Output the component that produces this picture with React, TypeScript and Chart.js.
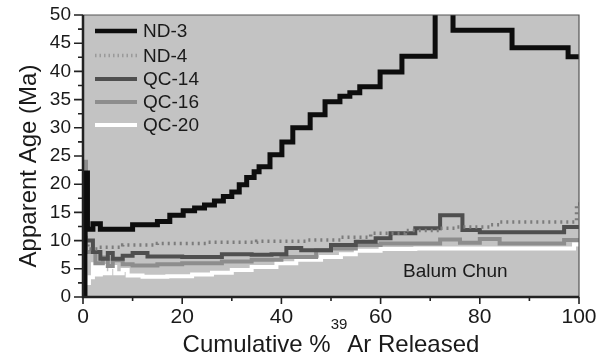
import React, { useEffect, useRef } from 'react';
import { Chart, registerables } from 'chart.js';
Chart.register(...registerables);

// Step spectra: each array gives the start of a step (% 39Ar) and its apparent age (Ma)
const ND3_X = [0, 0.4, 0.9, 2, 3.5, 10, 15, 17.5, 20.2, 22.5, 24.5, 26.5, 28.3, 30, 31.5, 33, 34.5, 35.5, 37.7, 40.1, 42.3, 45.8, 48.8, 51.8, 53.8, 55.8, 59.9, 64.3, 71, 74.6, 86.5, 97.8];
const ND3_AGE = [0.5, 22, 12, 13, 12, 12.8, 13.4, 14.5, 15.3, 15.8, 16.3, 17, 17.8, 18.6, 19.9, 21.2, 22.2, 23.1, 25.2, 27.5, 30, 32.3, 34.6, 35.6, 36.2, 37.3, 39.9, 42.7, 60, 47.3, 44.2, 42.6];

const ND4_X = [0, 1, 3, 8, 15, 25, 35, 45, 52, 58, 65, 72, 75, 82, 84, 99.5];
const ND4_AGE = [9.5, 8.5, 8.8, 9.2, 9.5, 9.7, 9.9, 10.1, 10.6, 11.3, 11.8, 12.2, 12.4, 12.8, 13.3, 16.5];

const QC14_X = [0, 0.5, 2, 3.5, 5, 6, 8, 10, 13, 20, 28, 34, 38, 41, 44, 50, 55, 59, 62, 67, 72, 76.5, 80, 97];
const QC14_AGE = [10.5, 10, 8, 6.8, 7.8, 6.8, 7.3, 7.8, 7.2, 7.1, 7.6, 7.5, 7.6, 8.7, 8.3, 9.2, 9.8, 10.4, 11.3, 12.2, 14.5, 11.9, 11.5, 12.4];

const QC16_X = [0, 0.6, 2.5, 4, 5, 6, 8, 10, 15, 20, 28, 34, 40, 47, 50, 55, 60, 72, 76, 80, 84, 97];
const QC16_AGE = [24, 8, 6, 7, 5.5, 6.5, 5.8, 5.6, 5.8, 6, 6.3, 6.6, 7.1, 8.3, 8.6, 9.2, 9.5, 10.2, 9.6, 10.3, 9.5, 10.1];

const QC20_X = [0, 0.5, 1.2, 2, 2.8, 3.6, 4.4, 5.5, 6.5, 8, 9, 12, 17, 22, 26, 30, 34, 39, 43, 48, 52, 55, 60, 67, 99];
const QC20_AGE = [8, 2.5, 3.5, 5.8, 4, 5.5, 4.2, 5.3, 4.2, 4.8, 3.8, 3.6, 3.7, 4, 4.3, 4.8, 5.3, 6, 6.6, 7.1, 7.6, 8.2, 8.5, 8.6, 9.3];

const X_MAX = 100;
const SERIES_NAMES = ['ND-3', 'ND-4', 'QC-14', 'QC-16', 'QC-20'];
const SITE_LABEL = 'Balum Chun';
const Y_TITLE = 'Apparent Age (Ma)';
const X_TITLE_A = 'Cumulative %';
const X_TITLE_SUP = '39';
const X_TITLE_B = 'Ar Released';

const FONT = '"Liberation Sans", Arial, Helvetica, sans-serif';

function steps(xs: number[], ys: number[]) {
  const pts = xs.map((x, i) => ({ x, y: ys[i] }));
  pts.push({ x: X_MAX, y: ys[ys.length - 1] });
  return pts;
}

const STYLES = [
  { color: '#0d0d0d', width: 5, dash: [] as number[] },
  { color: '#7c7c7c', width: 3.5, dash: [2, 4] },
  { color: '#4f4f4f', width: 4, dash: [] as number[] },
  { color: '#8d8d8d', width: 4, dash: [] as number[] },
  { color: '#ffffff', width: 4, dash: [] as number[] },
];

export default function App() {
  const ref = useRef<HTMLCanvasElement>(null);
  useEffect(() => {
    document.body.style.margin = '0';
    const canvas = ref.current!;
    const series = [
      steps(ND3_X, ND3_AGE),
      steps(ND4_X, ND4_AGE),
      steps(QC14_X, QC14_AGE),
      steps(QC16_X, QC16_AGE),
      steps(QC20_X, QC20_AGE),
    ];

    const decor = {
      id: 'decor',
      beforeDatasetsDraw(chart: any) {
        const { ctx, chartArea: a } = chart;
        ctx.save();
        ctx.fillStyle = '#c3c3c3';
        ctx.fillRect(a.left, a.top, a.right - a.left, a.bottom - a.top);
        ctx.restore();
      },
      afterDatasetsDraw(chart: any) {
        const { ctx, chartArea: a } = chart;
        const xs = chart.scales.x;
        const ys = chart.scales.y;
        ctx.save();
        // frame
        ctx.strokeStyle = '#555';
        ctx.lineWidth = 1.2;
        ctx.beginPath();
        ctx.moveTo(a.left, a.top);
        ctx.lineTo(a.right, a.top);
        ctx.lineTo(a.right, a.bottom);
        ctx.stroke();
        ctx.strokeStyle = '#222';
        ctx.lineWidth = 2.5;
        ctx.beginPath();
        ctx.moveTo(a.left, a.top);
        ctx.lineTo(a.left, a.bottom);
        ctx.lineTo(a.right, a.bottom);
        ctx.stroke();
        // ticks
        ctx.lineWidth = 1.6;
        ctx.beginPath();
        for (let v = 0; v <= 50.001; v += 2.5) {
          const p = ys.getPixelForValue(v);
          const len = Math.abs(v % 5) < 0.01 ? 9 : 5;
          ctx.moveTo(a.left - len, p);
          ctx.lineTo(a.left, p);
        }
        for (let v = 0; v <= 100.001; v += 10) {
          const p = xs.getPixelForValue(v);
          const len = v % 20 === 0 ? 7 : 4;
          ctx.moveTo(p, a.bottom);
          ctx.lineTo(p, a.bottom + len);
        }
        ctx.stroke();

        // legend
        ctx.font = `19px ${FONT}`;
        ctx.textBaseline = 'middle';
        ctx.textAlign = 'left';
        const rowY = [31, 55.5, 79, 102, 125];
        SERIES_NAMES.forEach((name, i) => {
          const st = STYLES[i];
          ctx.strokeStyle = i === 1 ? '#9a9a9a' : st.color;
          ctx.lineWidth = i === 0 ? 4.5 : st.width;
          ctx.setLineDash(i === 1 ? [1.5, 3] : []);
          ctx.beginPath();
          ctx.moveTo(95, rowY[i]);
          ctx.lineTo(137, rowY[i]);
          ctx.stroke();
          ctx.setLineDash([]);
          ctx.fillStyle = '#1a1a1a';
          ctx.fillText(name, 143, rowY[i] + 1);
        });

        // site label
        ctx.fillStyle = '#1a1a1a';
        ctx.font = `19px ${FONT}`;
        ctx.fillText(SITE_LABEL, 403, 272);

        // y title
        ctx.save();
        ctx.translate(29, 166);
        ctx.rotate(-Math.PI / 2);
        ctx.font = `24px ${FONT}`;
        ctx.textAlign = 'center';
        ctx.textBaseline = 'middle';
        ctx.fillText(Y_TITLE, 0, 0);
        ctx.restore();

        // x title with superscript
        ctx.textBaseline = 'alphabetic';
        ctx.textAlign = 'left';
        const big = `24px ${FONT}`;
        const small = `15px ${FONT}`;
        ctx.font = big;
        const w1 = ctx.measureText(X_TITLE_A).width;
        const w3 = ctx.measureText(X_TITLE_B).width;
        ctx.font = small;
        const w2 = ctx.measureText(X_TITLE_SUP).width;
        const total = w1 + w2 + w3;
        const sx = (a.left + a.right) / 2 - total / 2;
        const base = 352;
        ctx.font = big;
        ctx.fillText(X_TITLE_A, sx, base);
        ctx.font = small;
        ctx.fillText(X_TITLE_SUP, sx + w1, base - 23);
        ctx.font = big;
        ctx.fillText(X_TITLE_B, sx + w1 + w2, base);
        ctx.restore();
      },
    };

    const chart = new Chart(canvas, {
      type: 'line',
      data: {
        datasets: series.map((d, i) => ({
          label: SERIES_NAMES[i],
          data: d,
          borderColor: STYLES[i].color,
          borderWidth: STYLES[i].width,
          borderDash: STYLES[i].dash,
          stepped: true,
          pointRadius: 0,
          fill: false,
          tension: 0,
          clip: { left: 4, top: 0, right: 2, bottom: 4 },
        })),
      },
      options: {
        responsive: false,
        animation: false,
        events: [],
        layout: { padding: { top: 15, right: 27, left: 0, bottom: 0 } },
        plugins: { legend: { display: false }, tooltip: { enabled: false } },
        scales: {
          x: {
            type: 'linear',
            min: 0,
            max: 100,
            ticks: { stepSize: 20, font: { family: FONT, size: 21 }, color: '#1a1a1a', padding: 1 },
            grid: { drawOnChartArea: false, drawTicks: true, tickLength: 7, tickColor: 'rgba(0,0,0,0)', color: 'rgba(0,0,0,0)' },
            border: { display: false },
            afterFit: (s: any) => { s.height = 62; },
          },
          y: {
            type: 'linear',
            min: 0,
            max: 50,
            ticks: { stepSize: 5, font: { family: FONT, size: 19 }, color: '#1a1a1a', padding: 3 },
            grid: { drawOnChartArea: false, drawTicks: true, tickLength: 9, tickColor: 'rgba(0,0,0,0)', color: 'rgba(0,0,0,0)' },
            border: { display: false },
            afterFit: (s: any) => { s.width = 83; },
          },
        },
      },
      plugins: [decor],
    } as any);
    return () => chart.destroy();
  }, []);
  return <canvas ref={ref} width={606} height={359} style={{ display: 'block', width: 606, height: 359 }} />;
}
